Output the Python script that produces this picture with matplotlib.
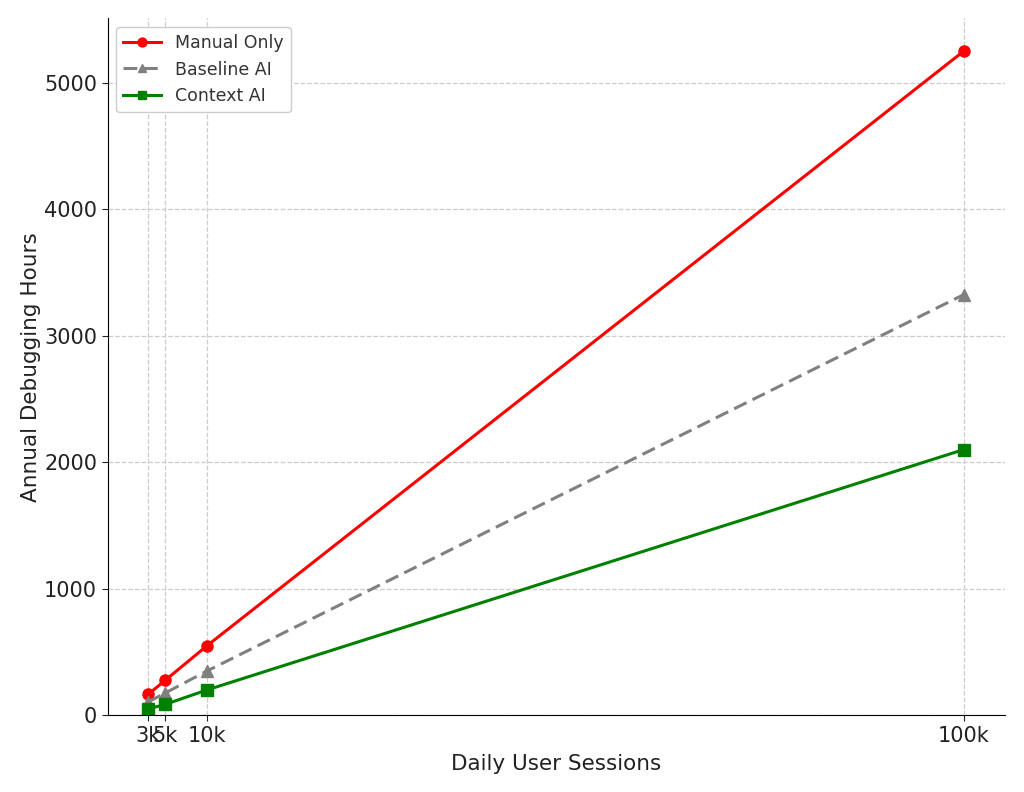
import matplotlib
matplotlib.use("Agg")
import matplotlib.pyplot as plt

sessions = [3000, 5000, 10000, 100000]
tick_labels = ["3k", "5k", "10k", "100k"]
manual_only = [165, 275, 550, 5250]
baseline_ai = [105, 175, 350, 3325]
context_ai = [50, 85, 200, 2100]

fig = plt.figure(figsize=(10.24, 7.92), dpi=100)
ax = fig.add_axes([0.105, 0.097, 0.876, 0.88])

ax.plot(sessions, manual_only, color="red", marker="o", linewidth=2.2, markersize=8, label="Manual Only")
ax.plot(sessions, baseline_ai, color="gray", marker="^", linestyle="--", dashes=(4.5, 2.2),
        linewidth=2.2, markersize=8, label="Baseline AI")
ax.plot(sessions, context_ai, color="green", marker="s", linewidth=2.2, markersize=8, label="Context AI")

ax.set_xticks(sessions)
ax.set_xticklabels(tick_labels)
ax.set_ylim(bottom=0)
ax.tick_params(labelsize=15, colors="#222222", length=4)
ax.set_xlabel("Daily User Sessions", fontsize=15.5, color="#222222", labelpad=6)
ax.set_ylabel("Annual Debugging Hours", fontsize=15.5, color="#222222", labelpad=2)
ax.grid(True, linestyle="--", color="#cccccc", linewidth=0.9)
ax.spines["top"].set_visible(False)
ax.spines["right"].set_visible(False)
leg = ax.legend(loc="upper left", fontsize=12.5, framealpha=1, handlelength=2.2, markerscale=0.8)
for t in leg.get_texts():
    t.set_color("#333333")

fig.savefig("out.png", dpi=100)
